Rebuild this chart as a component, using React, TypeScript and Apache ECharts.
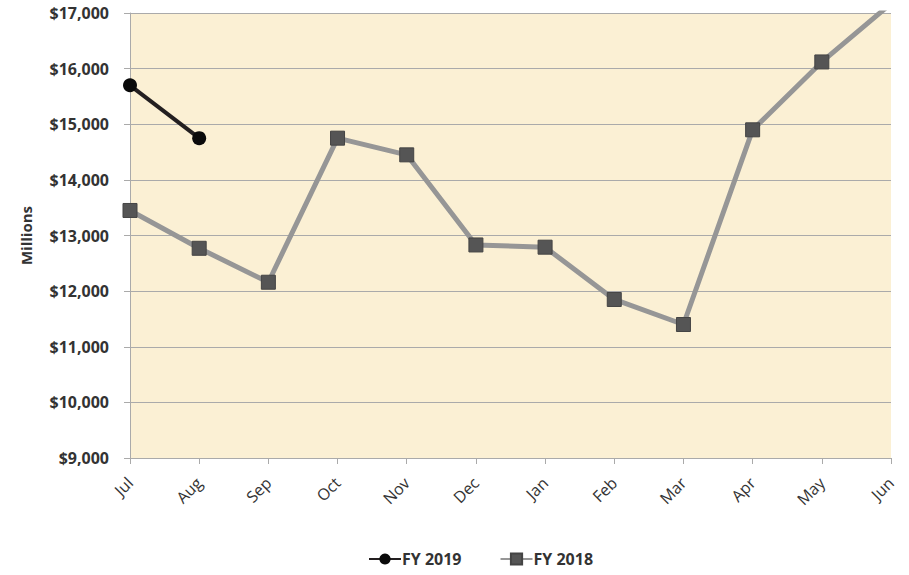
import React, { useEffect, useRef } from "react";
import * as echarts from "echarts";

const categories = ["Jul", "Aug", "Sep", "Oct", "Nov", "Dec", "Jan", "Feb", "Mar", "Apr", "May", "Jun"];
const fy2019 = [15700, 14750, null, null, null, null, null, null, null, null, null, null];
const fy2018 = [13450, 12770, 12160, 14750, 14450, 12830, 12790, 11850, 11400, 14900, 16120, 17170];

export default function App() {
  const ref = useRef<HTMLDivElement>(null);
  useEffect(() => {
    const chart = echarts.init(ref.current!, null, { renderer: "svg" });
    const font = "'Open Sans', 'Noto Sans', sans-serif";
    chart.setOption({
      animation: false,
      textStyle: { fontFamily: font },
      grid: { left: 130, right: 18, top: 13, bottom: 117, show: true, backgroundColor: "#FBF0D4", borderWidth: 0 },
      legend: {
        bottom: 3,
        left: 363,
        itemGap: 38,
        itemWidth: 32,
        itemHeight: 14,
        textStyle: { fontFamily: font, fontWeight: "bold", fontSize: 16, color: "#333", padding: [0, 0, 0, -4] },
        data: ["FY 2019", "FY 2018"],
      },
      xAxis: {
        type: "category",
        data: categories,
        boundaryGap: false,
        axisLine: { lineStyle: { color: "#aaa" } },
        axisTick: { alignWithLabel: true, length: 6, lineStyle: { color: "#aaa" } },
        axisLabel: { rotate: 45, fontSize: 16, color: "#333", fontFamily: font, margin: 22, interval: 0 },
      },
      yAxis: {
        type: "value",
        min: 9000,
        max: 17000,
        interval: 1000,
        name: "Millions",
        nameLocation: "middle",
        nameGap: 97,
        nameTextStyle: { fontSize: 15, fontWeight: "bold", color: "#333", fontFamily: font },
        axisLine: { show: true, lineStyle: { color: "#aaa" } },
        axisTick: { show: true, length: 6, lineStyle: { color: "#aaa" } },
        splitLine: { lineStyle: { color: "#aaa" } },
        axisLabel: {
          fontSize: 16,
          fontWeight: "bold",
          color: "#333",
          fontFamily: font,
          margin: 21,
          formatter: (v: number) => "$" + v.toLocaleString("en-US"),
        },
      },
      series: [
        {
          name: "FY 2019",
          type: "line",
          data: fy2019,
          symbol: "circle",
          symbolSize: 14,
          lineStyle: { color: "#231F20", width: 4 },
          itemStyle: { color: "#0a0a0a" },
          z: 3,
        },
        {
          name: "FY 2018",
          type: "line",
          data: fy2018,
          symbol: "rect",
          symbolSize: 14,
          clip: true,
          lineStyle: { color: "#969696", width: 5 },
          itemStyle: { color: "#555555", borderColor: "#444", borderWidth: 1 },
          z: 2,
        },
      ],
    });
    return () => chart.dispose();
  }, []);
  return <div ref={ref} style={{ position: "absolute", left: 0, top: 0, width: 909, height: 575 }} />;
}
